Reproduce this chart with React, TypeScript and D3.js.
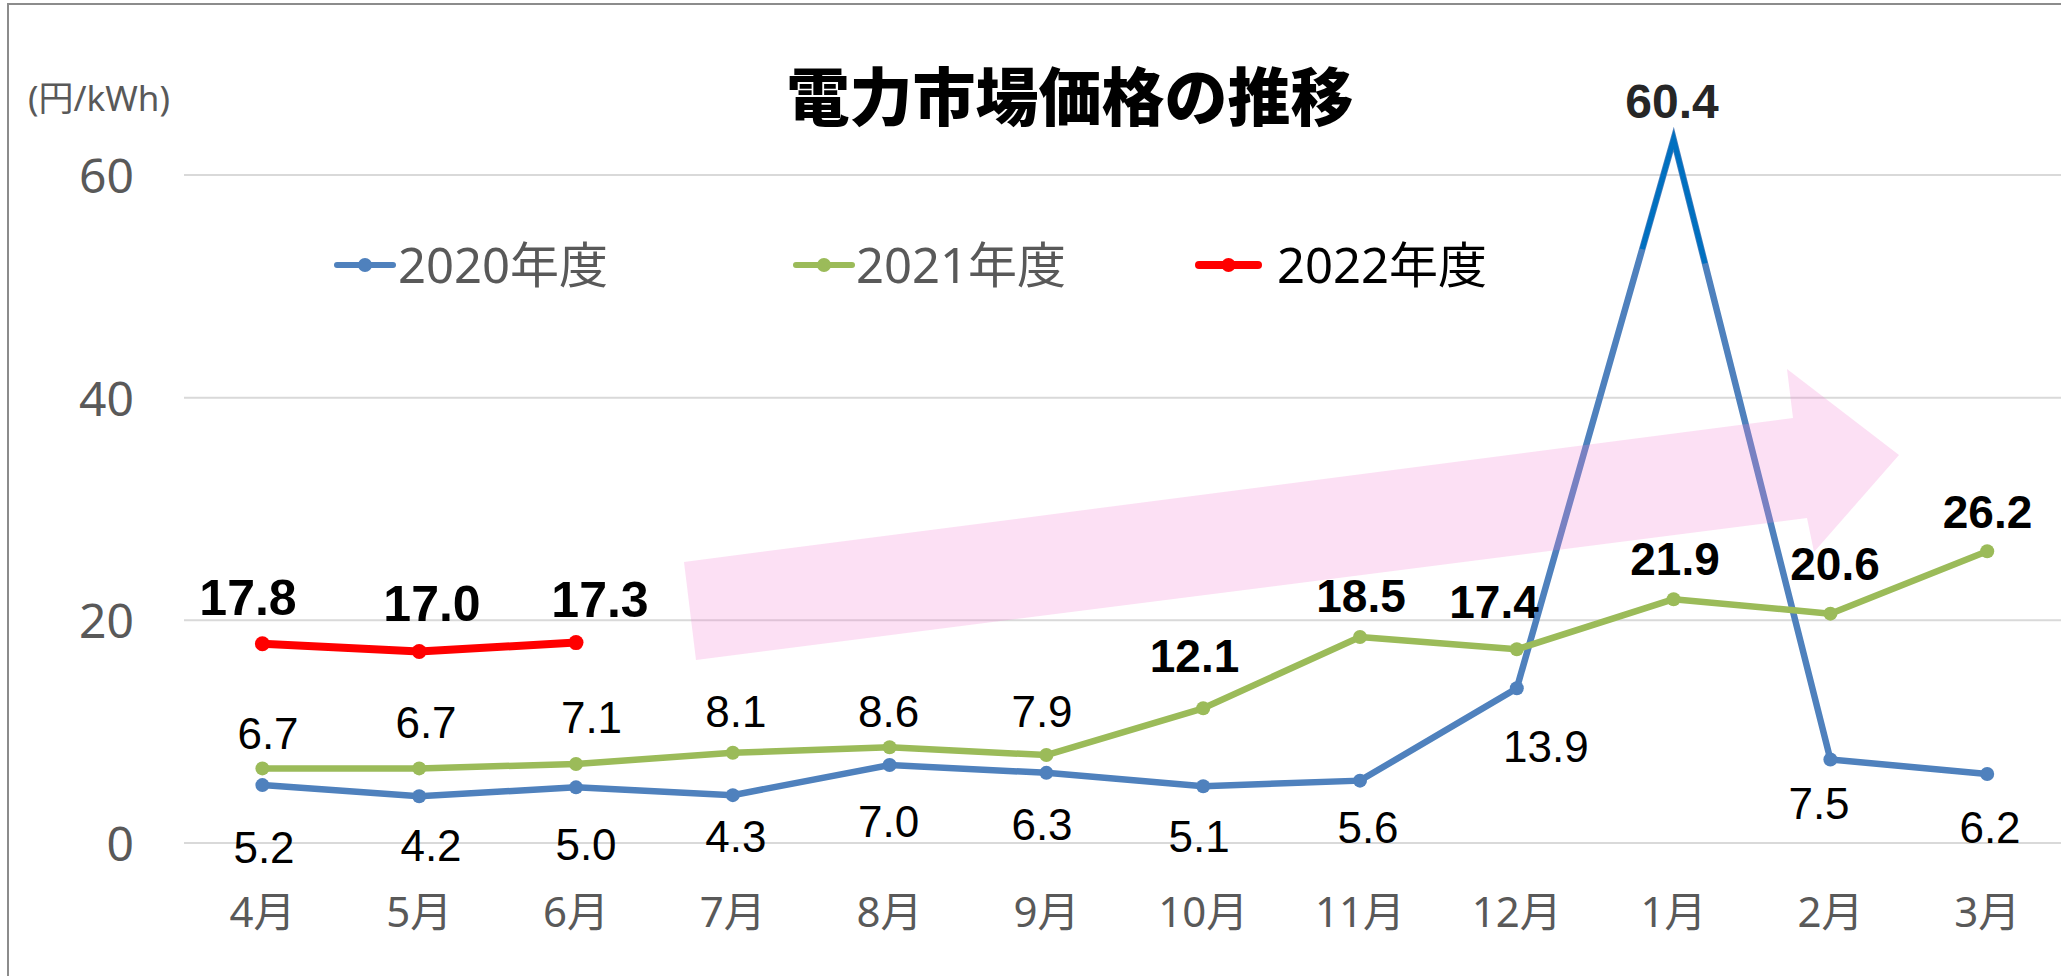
import React from "react";
import * as d3 from "d3";

// ---- data ----
const months = ["4月", "5月", "6月", "7月", "8月", "9月", "10月", "11月", "12月", "1月", "2月", "3月"];
const fy2020 = [5.2, 4.2, 5.0, 4.3, 7.0, 6.3, 5.1, 5.6, 13.9, 63.2, 7.5, 6.2];
const fy2020Labels = ["5.2", "4.2", "5.0", "4.3", "7.0", "6.3", "5.1", "5.6", "13.9", "60.4", "7.5", "6.2"];
const fy2021 = [6.7, 6.7, 7.1, 8.1, 8.6, 7.9, 12.1, 18.5, 17.4, 21.9, 20.6, 26.2];
const fy2021Labels = ["6.7", "6.7", "7.1", "8.1", "8.6", "7.9", "12.1", "18.5", "17.4", "21.9", "20.6", "26.2"];
const fy2022 = [17.9, 17.2, 18.0];
const fy2022Labels = ["17.8", "17.0", "17.3"];
const yTicks = [0, 20, 40, 60];
const seriesNames = ["2020年度", "2021年度", "2022年度"];
const title = "電力市場価格の推移";
const unitLabel = "(円/kWh)";

// ---- layout (label nudges in px) ----
const W = 2061;
const H = 976;
const PLOT_L = 184;
const PLOT_R = 2065.6;
const Y0 = 843;
const Y60 = 175;

const g21dx = [5.6, 6.8, 15.5, 3, -1, -4.4, -8.7, 1, -22.8, 1.4, 4.6, 0.3];
const g21dy = [-19.4, -30.4, -31, -25.8, -20.3, -28, -36.3, -25, -31.3, -24.2, -33.7, -23.3];
const g21bold = [false, false, false, false, false, false, true, true, true, true, true, true];
const b20dx = [1.6, 11.8, 10, 3, -1, -4.4, -4, 8, 29, -1.6, -11.4, 2.8];
const b20dy = [78, 65, 73, 57, 72, 67, 66, 62, 74, -21.4, 59.5, 69];
const b20bold = [false, false, false, false, false, false, false, false, false, true, false, false];
const r22dx = [-14.4, 12.8, 24];
const r22dy = [-28.7, -30.5, -25.6];

const BLUE = "#4F81BD";
const GREEN = "#9BBB59";
const RED = "#FF0000";
const DARKBLUE = "#0070C0";
const TXT_GRAY = "#595959";
const LABEL_FONT = "'Liberation Sans', Arial, sans-serif";
const JP_FONT = "'Noto Sans', 'Noto Sans CJK JP', sans-serif";

export default function App() {
  const x = d3.scalePoint<string>().domain(months).range([PLOT_L, PLOT_R]).padding(0.5);
  const y = d3.scaleLinear().domain([0, 60]).range([Y0, Y60]);

  const line = d3
    .line<number>()
    .x((_, i) => x(months[i]) as number)
    .y((d) => y(d));

  // dark overlay near the January peak (20% of adjacent segments)
  const iPeak = 9;
  const px = x(months[iPeak]) as number;
  const py = y(fy2020[iPeak]);
  const lx = x(months[iPeak - 1]) as number;
  const ly = y(fy2020[iPeak - 1]);
  const rx = x(months[iPeak + 1]) as number;
  const ry = y(fy2020[iPeak + 1]);
  const f = 0.2;
  const overlayPath = `M${px + (lx - px) * f},${py + (ly - py) * f} L${px},${py} L${px + (rx - px) * f},${py + (ry - py) * f}`;

  // trend arrow (decorative shape)
  const arrowPts: [number, number][] = [
    [684, 562],
    [1793, 418],
    [1787, 369],
    [1899, 455],
    [1814, 552],
    [1807, 518],
    [696, 660],
  ];

  const legendItems = [
    { name: seriesNames[0], color: BLUE, x0: 337, x1: 393, tx: 398, txtColor: TXT_GRAY, w: 6 },
    { name: seriesNames[1], color: GREEN, x0: 796, x1: 852, tx: 856, txtColor: TXT_GRAY, w: 6 },
    { name: seriesNames[2], color: RED, x0: 1199, x1: 1258, tx: 1277, txtColor: "#000000", w: 8 },
  ];

  return (
    <svg
      width={W}
      height={H}
      viewBox={`0 0 ${W} ${H}`}
      style={{ position: "absolute", left: 0, top: 0, display: "block", background: "#fff" }}
    >
      <rect x={0} y={0} width={W} height={H} fill="#ffffff" />
      {/* frame */}
      <rect x={8} y={4} width={W + 40} height={H + 40} fill="none" stroke="#8c8c8c" strokeWidth={2} />

      {/* gridlines */}
      {yTicks.map((t) => (
        <line key={t} x1={PLOT_L} x2={W} y1={y(t)} y2={y(t)} stroke="#D9D9D9" strokeWidth={2} />
      ))}

      {/* y tick labels */}
      {yTicks.map((t) => (
        <text
          key={"yt" + t}
          x={134}
          y={y(t) + 18}
          textAnchor="end"
          fontFamily={JP_FONT}
          fontSize={48}
          fill={TXT_GRAY}
        >
          {t}
        </text>
      ))}

      {/* unit label */}
      <text x={28} y={111} fontFamily={JP_FONT} fontSize={35} fill={TXT_GRAY}>
        {unitLabel}
      </text>

      {/* x labels */}
      {months.map((m) => (
        <text
          key={m}
          x={x(m) as number}
          y={927}
          textAnchor="middle"
          fontFamily={JP_FONT}
          fontSize={42}
          fill={TXT_GRAY}
        >
          {m}
        </text>
      ))}

      {/* lines */}
      <path d={line(fy2020) || ""} fill="none" stroke={BLUE} strokeWidth={6.5} strokeLinejoin="miter" strokeMiterlimit={10} strokeLinecap="round" />
      <path d={line(fy2021) || ""} fill="none" stroke={GREEN} strokeWidth={6.5} strokeLinejoin="round" strokeLinecap="round" />
      <path d={line(fy2022) || ""} fill="none" stroke={RED} strokeWidth={8} strokeLinejoin="round" strokeLinecap="round" />

      {/* markers */}
      {fy2020.map((v, i) =>
        i === iPeak ? null : <circle key={"b" + i} cx={x(months[i]) as number} cy={y(v)} r={7} fill={BLUE} />
      )}
      {fy2021.map((v, i) => (
        <circle key={"g" + i} cx={x(months[i]) as number} cy={y(v)} r={7} fill={GREEN} />
      ))}
      {fy2022.map((v, i) => (
        <circle key={"r" + i} cx={x(months[i]) as number} cy={y(v)} r={7.5} fill={RED} />
      ))}

      {/* dark overlay strokes at peak */}
      <path d={overlayPath} fill="none" stroke={DARKBLUE} strokeWidth={5} strokeLinejoin="miter" strokeMiterlimit={10} />

      {/* trend arrow */}
      <polygon points={arrowPts.map((p) => p.join(",")).join(" ")} fill="#F383D3" fillOpacity={0.25} />

      {/* data labels 2020 */}
      {fy2020.map((v, i) => (
        <text
          key={"bl" + i}
          x={(x(months[i]) as number) + b20dx[i]}
          y={y(v) + b20dy[i]}
          textAnchor="middle"
          fontFamily={LABEL_FONT}
          fontWeight={b20bold[i] ? 700 : 400}
          fontSize={b20bold[i] ? 48 : 44}
          fill={b20bold[i] ? "#262626" : "#000000"}
        >
          {fy2020Labels[i]}
        </text>
      ))}
      {/* data labels 2021 */}
      {fy2021.map((v, i) => (
        <text
          key={"gl" + i}
          x={(x(months[i]) as number) + g21dx[i]}
          y={y(v) + g21dy[i]}
          textAnchor="middle"
          fontFamily={LABEL_FONT}
          fontWeight={g21bold[i] ? 700 : 400}
          fontSize={g21bold[i] ? 46 : 44}
          fill="#000000"
        >
          {fy2021Labels[i]}
        </text>
      ))}
      {/* data labels 2022 */}
      {fy2022.map((v, i) => (
        <text
          key={"rl" + i}
          x={(x(months[i]) as number) + r22dx[i]}
          y={y(v) + r22dy[i]}
          textAnchor="middle"
          fontFamily={LABEL_FONT}
          fontWeight={700}
          fontSize={50}
          fill="#000000"
        >
          {fy2022Labels[i]}
        </text>
      ))}

      {/* title */}
      <text
        x={1070}
        y={92}
        textAnchor="middle"
        dominantBaseline="central"
        fontFamily="'Noto Sans CJK JP', sans-serif"
        fontWeight={900}
        fontSize={63}
        fill="#000000"
      >
        {title}
      </text>

      {/* legend */}
      {legendItems.map((it) => (
        <g key={it.name}>
          <line x1={it.x0} x2={it.x1} y1={265} y2={265} stroke={it.color} strokeWidth={it.w} strokeLinecap="round" />
          <circle cx={(it.x0 + it.x1) / 2} cy={265} r={7} fill={it.color} />
          <text x={it.tx} y={283} fontFamily={JP_FONT} fontSize={49} fill={it.txtColor}>
            {it.name}
          </text>
        </g>
      ))}
    </svg>
  );
}
